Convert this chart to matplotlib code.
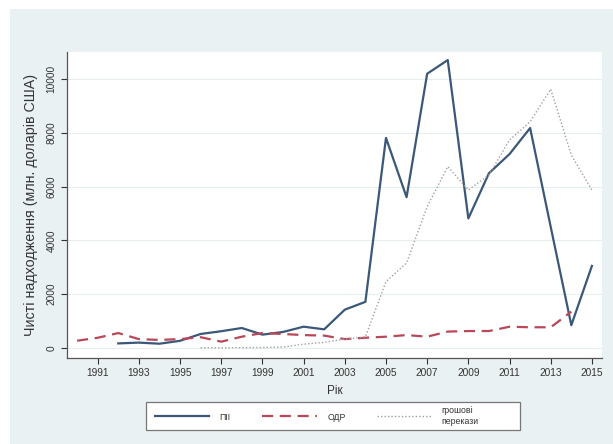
import matplotlib

matplotlib.use("Agg")
import matplotlib.pyplot as plt
from matplotlib.patches import Rectangle

plt.rcParams["font.family"] = ["Liberation Sans", "DejaVu Sans"]

# data (mln USD)
fdi_years = list(range(1992, 2016))
fdi = [
    170, 200, 159, 267, 521, 623, 743, 496, 595, 792, 693, 1424,
    1715, 7808, 5604, 10193, 10700, 4816, 6495, 7207, 8175, 4499, 847, 3050,
]

oda_years = list(range(1990, 2015))
oda = [
    270, 380, 555, 330, 300, 330, 400, 235, 420, 555, 520, 480, 460,
    330, 380, 420, 480, 420, 610, 630, 630, 790, 770, 770, 1350,
]

rem_years = list(range(1996, 2016))
rem = [
    11, 8, 13, 18, 33, 141, 209, 330, 411, 2465, 3160, 5250, 6740,
    5870, 6430, 7730, 8410, 9620, 7170, 5870,
]

xticks = list(range(1991, 2016, 2))
yticks = [0, 2000, 4000, 6000, 8000, 10000]

W, H = 613, 444
fig = plt.figure(figsize=(W / 100, H / 100), dpi=100, facecolor="white")
fig.patches.append(
    Rectangle((10 / W, 0), 1, 1 - 9 / H, transform=fig.transFigure,
              facecolor="#eaf1f3", edgecolor="none", zorder=-10)
)

ax = fig.add_axes([67 / W, 1 - 358 / H, (602 - 67) / W, (358 - 52) / H])
ax.set_facecolor("white")

ax.plot(fdi_years, fdi, color="#3b5878", lw=1.6, label="ПІІ")
ax.plot(oda_years, oda, color="#b8475a", lw=1.6, ls=(0, (5, 3)), label="ОДР")
ax.plot(rem_years, rem, color="#a0a0a0", lw=1.0, ls=(0, (1, 1.5)),
        label="грошові\nперекази")

ax.set_xlim(1989.51, 2015.49)
ax.set_ylim(-372, 11000)
ax.set_xticks(xticks)
ax.set_yticks(yticks)
ax.set_yticklabels([str(v) for v in yticks], rotation=90, va="center")
ax.tick_params(axis="both", labelsize=7.3, colors="#333333", length=4,
               width=0.8, direction="out")
ax.tick_params(axis="x", pad=3)
ax.grid(axis="y", color="#e8eef0", lw=0.8)
ax.set_axisbelow(True)

for side in ["top", "right"]:
    ax.spines[side].set_visible(False)
for side in ["left", "bottom"]:
    ax.spines[side].set_color("#555555")
    ax.spines[side].set_linewidth(0.9)

ax.set_ylabel("Чисті надходження (млн. доларів США)", fontsize=10.3,
              color="#333333", labelpad=6)
ax.set_xlabel("Рік", fontsize=8.5, color="#333333", labelpad=5)

# legend frame drawn separately, legend itself frameless
fig.patches.append(
    Rectangle((146 / W, 1 - 430 / H), (520 - 146) / W, 28 / H,
              transform=fig.transFigure, facecolor="white",
              edgecolor="#777777", lw=0.9, zorder=1)
)
leg = fig.legend(
    loc="center left",
    bbox_to_anchor=(155 / W, 1 - 416 / H),
    ncol=3,
    fontsize=6.3,
    handlelength=6.2,
    handletextpad=1.2,
    columnspacing=3.6,
    borderpad=0,
    borderaxespad=0,
    frameon=False,
)
for t in leg.get_texts():
    t.set_color("#333333")

fig.savefig("out.png", dpi=100, facecolor=fig.get_facecolor())
